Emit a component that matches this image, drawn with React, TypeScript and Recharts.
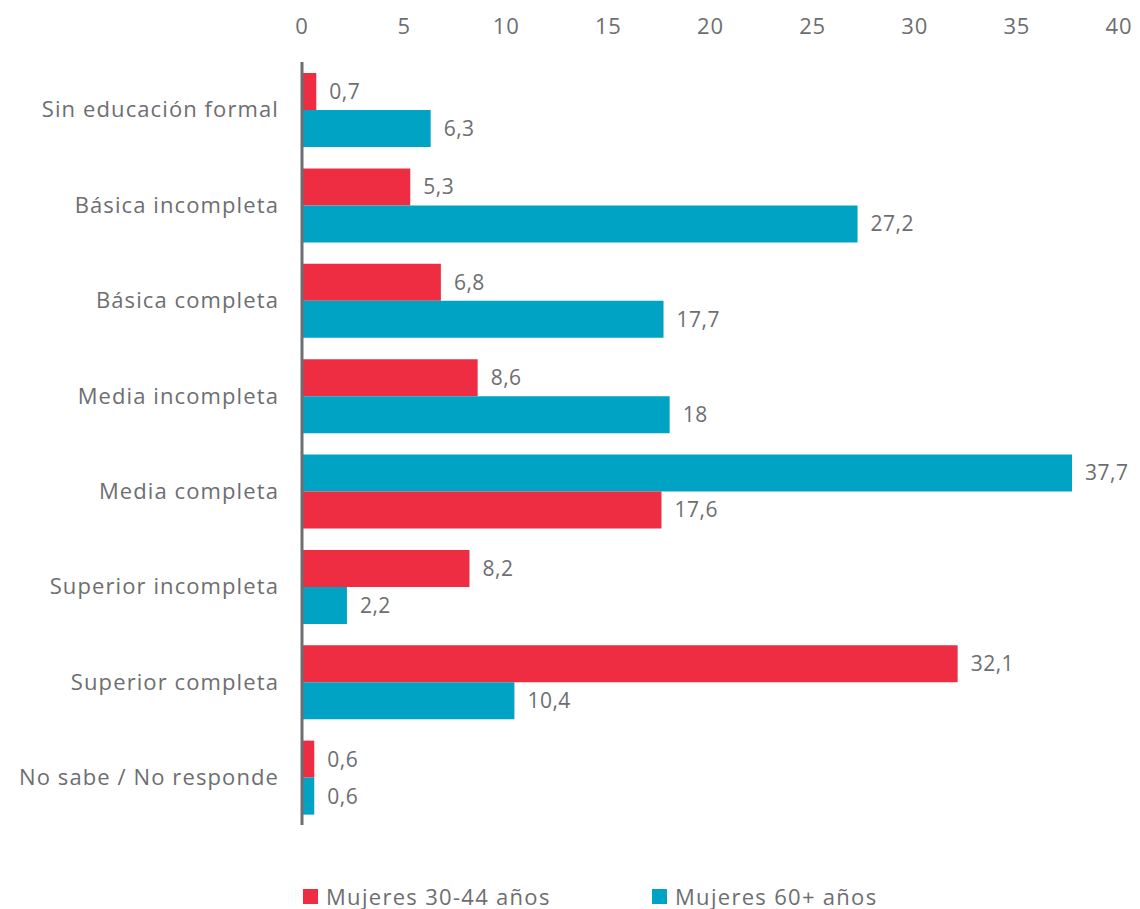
import React from "react";
import {
  BarChart,
  Bar,
  XAxis,
  YAxis,
  Legend,
  Cell,
  LabelList,
} from "recharts";

const categories = [
  "Sin educación formal",
  "Básica incompleta",
  "Básica completa",
  "Media incompleta",
  "Media completa",
  "Superior incompleta",
  "Superior completa",
  "No sabe / No responde",
];

const mujeres3044 = [0.7, 5.3, 6.8, 8.6, 17.6, 8.2, 32.1, 0.6];
const mujeres60 = [6.3, 27.2, 17.7, 18, 37.7, 2.2, 10.4, 0.6];

// which series sits in the upper slot of each group (the reference swaps it once)
const upperSeries = ["a", "a", "a", "a", "b", "a", "a", "a"];

const xTicks = [0, 5, 10, 15, 20, 25, 30, 35, 40];

const seriesNames = { a: "Mujeres 30-44 años", b: "Mujeres 60+ años" };
const colors = { a: "#EE2D43", b: "#00A3C4" };

const FONT = "'Open Sans', sans-serif";
const GRAY = "#6d6e71";

const chartData = categories.map((name, i) => {
  const first = upperSeries[i];
  const second = first === "a" ? "b" : "a";
  const val = { a: mujeres3044[i], b: mujeres60[i] };
  return {
    name,
    upper: val[first],
    lower: val[second],
    upperKey: first,
    lowerKey: second,
  };
});

const fmt = (v: any) => String(v).replace(".", ",");

function LegendContent() {
  const items = ["a", "b"] as const;
  return (
    <div style={{ position: "relative", height: 84, fontFamily: FONT }}>
      {items.map((k, i) => (
        <div
          key={k}
          style={{
            position: "absolute",
            left: 303 + i * 349,
            top: 60,
            display: "flex",
            alignItems: "center",
            height: 22,
          }}
        >
          <div style={{ width: 15, height: 15, background: colors[k], marginRight: 8 }} />
          <span style={{ fontSize: 22, lineHeight: "22px", letterSpacing: 1.3, color: GRAY }}>
            {seriesNames[k]}
          </span>
        </div>
      ))}
    </div>
  );
}

export default function App() {
  return (
    <div style={{ position: "absolute", left: 0, top: 0, width: 1140, height: 909, background: "#fff" }}>
      <BarChart
        width={1140}
        height={909}
        data={chartData}
        layout="vertical"
        margin={{ top: 0, right: 21, bottom: 0, left: 0 }}
        barSize={37}
        barGap={0}
      >
        <XAxis
          type="number"
          orientation="top"
          domain={[0, 40]}
          ticks={xTicks}
          height={62}
          axisLine={false}
          tickLine={false}
          tickMargin={22}
          tick={{ fill: GRAY, fontSize: 22, fontFamily: FONT, letterSpacing: 0.8 }}
        />
        <YAxis
          type="category"
          dataKey="name"
          width={302}
          tickLine={false}
          tickMargin={17}
          axisLine={{ stroke: GRAY, strokeWidth: 3 }}
          tick={{ fill: GRAY, fontSize: 22, fontFamily: FONT, letterSpacing: 1.1 }}
        />
        <Legend verticalAlign="bottom" height={84} content={<LegendContent />} />
        <Bar dataKey="upper" isAnimationActive={false}>
          {chartData.map((d, i) => (
            <Cell key={i} fill={colors[d.upperKey as "a" | "b"]} />
          ))}
          <LabelList
            dataKey="upper"
            position="right"
            offset={13}
            formatter={fmt}
            style={{ fill: GRAY, fontSize: 21, fontFamily: FONT, letterSpacing: 0.5 }}
          />
        </Bar>
        <Bar dataKey="lower" isAnimationActive={false}>
          {chartData.map((d, i) => (
            <Cell key={i} fill={colors[d.lowerKey as "a" | "b"]} />
          ))}
          <LabelList
            dataKey="lower"
            position="right"
            offset={13}
            formatter={fmt}
            style={{ fill: GRAY, fontSize: 21, fontFamily: FONT, letterSpacing: 0.5 }}
          />
        </Bar>
      </BarChart>
    </div>
  );
}
